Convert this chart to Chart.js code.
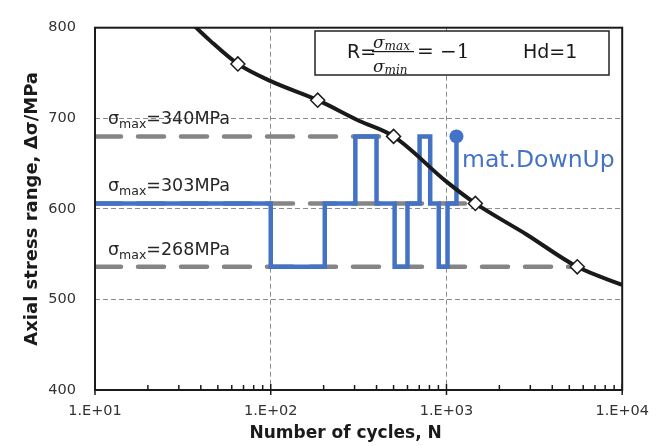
<!DOCTYPE html>
<html>
<head>
<meta charset="utf-8">
<script src="https://cdn.jsdelivr.net/npm/chart.js@4"></script>
<style>
  html, body { margin: 0; padding: 0; background: #fff; }
  #wrap { width: 662px; height: 446px; }
</style>
</head>
<body>
<div id="wrap"><canvas id="graph"></canvas></div>
<script>
const xTicks = [10, 100, 1000, 10000];
const yTicks = [400, 500, 600, 700, 800];

// S-N curve
const curveN = [32.5, 45, 65, 100, 185, 320, 500, 1000, 1460, 2840, 5550, 10000];
const curveS = [812, 786, 760, 741, 720, 697, 680, 630, 606, 572, 536, 516];

// diamonds on the curve
const testN = [65, 185, 500, 1460, 5550];
const testS = [760, 720, 680, 606, 536];

// down-up sequence (level starts at N)
const stepN = [10, 100, 203, 303, 400, 507, 600, 703, 808, 904, 1014, 1140];
const stepS = [606, 536, 606, 680, 606, 536, 606, 680, 606, 536, 606, 680];

// stress levels
const levelName = ["340", "303", "268"];
const levelS = [680, 606, 536];
const levelEndN = [500, 1460, 5550];

const blue = "#4472C4";
const gridGrey = "#8c8c8c";
const font = "DejaVu Sans";

const pts = (xs, ys) => xs.map((x, i) => ({ x: x, y: ys[i] }));

const levelSets = levelS.map((s, i) => ({
  data: [{ x: xTicks[0], y: s }, { x: levelEndN[i], y: s }],
  borderColor: "#858585",
  borderWidth: 4.5,
  borderDash: [26, 17],
  borderCapStyle: "round",
  pointRadius: 0,
  order: 4,
}));

const extras = {
  id: "extras",
  afterDraw(chart) {
    const ctx = chart.ctx;
    const a = chart.chartArea;
    const xs = chart.scales.x;
    const ys = chart.scales.y;

    // tick marks on the bottom axis
    ctx.save();
    ctx.strokeStyle = "#1a1a1a";
    ctx.lineWidth = 1.5;
    for (const t of xs.ticks) {
      const px = xs.getPixelForValue(t.value);
      const major = xTicks.includes(t.value);
      ctx.beginPath();
      ctx.moveTo(px, a.bottom - (major ? 6 : 5));
      ctx.lineTo(px, a.bottom + (major ? 5 : 0));
      ctx.stroke();
    }
    // frame
    ctx.lineWidth = 2;
    ctx.strokeRect(a.left, a.top, a.right - a.left, a.bottom - a.top);
    ctx.restore();

    // level labels
    ctx.save();
    ctx.fillStyle = "#262626";
    ctx.textBaseline = "alphabetic";
    levelS.forEach((s, i) => {
      let x = a.left + 13;
      const y = ys.getPixelForValue(s) - 12;
      ctx.font = "17.5px '" + font + "'";
      ctx.fillText("σ", x, y);
      x += ctx.measureText("σ").width;
      ctx.font = "12.5px '" + font + "'";
      ctx.fillText("max", x, y + 4);
      x += ctx.measureText("max").width;
      ctx.font = "17.5px '" + font + "'";
      ctx.fillText("=" + levelName[i] + "MPa", x, y);
    });

    // series label
    ctx.fillStyle = blue;
    ctx.font = "23.5px '" + font + "'";
    ctx.fillText("mat.DownUp", 462, 167);

    // axis titles
    ctx.fillStyle = "#1a1a1a";
    ctx.font = "bold 17px '" + font + "'";
    ctx.textAlign = "center";
    ctx.fillText("Number of cycles, N", (a.left + a.right) / 2 - 13, 438);
    ctx.save();
    ctx.translate(37, (a.top + a.bottom) / 2);
    ctx.rotate(-Math.PI / 2);
    ctx.font = "bold 18px '" + font + "'";
    ctx.fillText("Axial stress range, Δσ/MPa", 0, 0);
    ctx.restore();

    // formula box
    ctx.textAlign = "left";
    ctx.fillStyle = "#fff";
    ctx.fillRect(315, 31, 294, 44);
    ctx.strokeStyle = "#222";
    ctx.lineWidth = 1.5;
    ctx.strokeRect(315, 31, 294, 44);
    ctx.fillStyle = "#1a1a1a";
    ctx.font = "19px '" + font + "'";
    ctx.fillText("R=", 347, 58);
    ctx.font = "italic 17px 'DejaVu Serif'";
    ctx.fillText("σ", 373, 48);
    ctx.fillText("σ", 373, 72);
    const sw = ctx.measureText("σ").width;
    ctx.font = "italic 12px 'DejaVu Serif'";
    ctx.fillText("max", 373 + sw, 50);
    ctx.fillText("min", 373 + sw, 74);
    ctx.fillRect(372, 51, 42, 1.2);
    ctx.font = "20px 'DejaVu Serif'";
    ctx.fillText("= −1", 417, 58);
    ctx.font = "19px '" + font + "'";
    ctx.fillText("Hd=1", 523, 58);
    ctx.restore();
  },
};

new Chart(document.getElementById("graph"), {
  type: "line",
  data: {
    datasets: [
      ...levelSets,
      {
        data: pts(stepN, stepS),
        borderColor: blue,
        borderWidth: 4.5,
        stepped: true,
        pointRadius: stepN.map((n, i) => (i === stepN.length - 1 ? 7 : 0)),
        pointBackgroundColor: blue,
        pointBorderWidth: 0,
        order: 3,
      },
      {
        data: pts(curveN, curveS),
        borderColor: "#1a1a1a",
        borderWidth: 4,
        cubicInterpolationMode: "monotone",
        pointRadius: 0,
        order: 2,
      },
      {
        data: pts(testN, testS),
        showLine: false,
        pointStyle: "rectRot",
        pointRadius: 7,
        pointBackgroundColor: "#fff",
        pointBorderColor: "#1a1a1a",
        pointBorderWidth: 1.5,
        order: 1,
      },
    ],
  },
  options: {
    responsive: true,
    maintainAspectRatio: false,
    animation: false,
    layout: { padding: { top: 19, right: 39, left: 0, bottom: 0 } },
    plugins: {
      legend: { display: false },
      tooltip: { enabled: false },
    },
    scales: {
      x: {
        type: "logarithmic",
        min: xTicks[0],
        max: xTicks[xTicks.length - 1],
        afterFit: (s) => { s.height = 56; },
        afterBuildTicks: (s) => {
          const t = [];
          xTicks.forEach((d, i) => {
            t.push({ value: d });
            if (i < xTicks.length - 1) for (let k = 2; k < 10; k++) t.push({ value: k * d });
          });
          s.ticks = t;
        },
        ticks: {
          autoSkip: false,
          maxRotation: 0,
          padding: 13,
          color: "#333",
          font: { family: font, size: 14.5 },
          callback: (v) => xTicks.includes(v) ? "1.E+" + String(Math.round(Math.log10(v))).padStart(2, "0") : "",
        },
        grid: {
          drawTicks: false,
          lineWidth: 1,
          color: (c) => (c.tick && (c.tick.value === xTicks[1] || c.tick.value === xTicks[2]) ? gridGrey : "rgba(0,0,0,0)"),
        },
        border: { display: false, dash: [5, 3] },
      },
      y: {
        min: yTicks[0],
        max: yTicks[yTicks.length - 1],
        afterFit: (s) => { s.width = 95; },
        afterBuildTicks: (s) => { s.ticks = yTicks.map((v) => ({ value: v })); },
        ticks: {
          padding: 19,
          color: "#333",
          font: { family: font, size: 14.5 },
        },
        grid: {
          drawTicks: false,
          lineWidth: 1,
          color: (c) => (c.tick && c.tick.value > yTicks[0] && c.tick.value < yTicks[yTicks.length - 1] ? gridGrey : "rgba(0,0,0,0)"),
        },
        border: { display: false, dash: [5, 3] },
      },
    },
  },
  plugins: [extras],
});
</script>
</body>
</html>
